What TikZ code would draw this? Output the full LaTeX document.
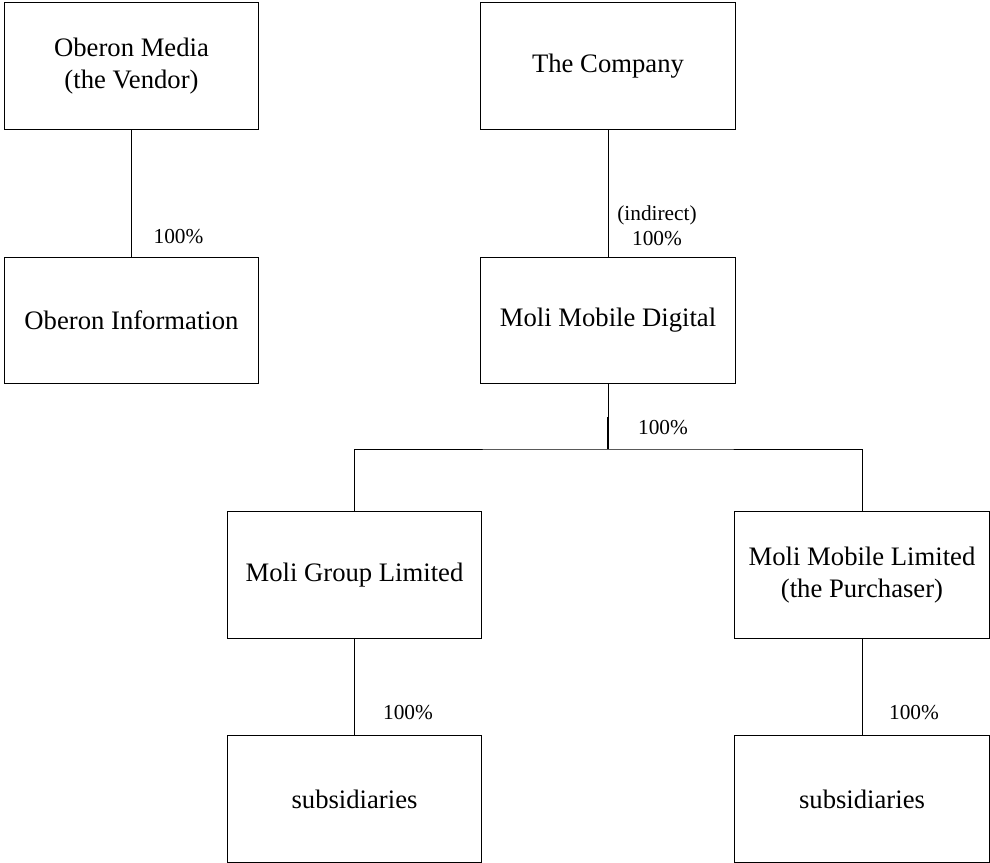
\documentclass[tikz,border=0pt]{standalone}
\usepackage{fontspec}
\setmainfont{Liberation Serif}
\usetikzlibrary{calc}

\tikzset{
  entity/.style={draw,line width=0.7pt,minimum width=191pt,minimum height=95pt,
    align=center,inner sep=0pt,font=\fontsize{20}{24.5}\selectfont},
  share/.style={font=\fontsize{16}{19}\selectfont,align=center,inner sep=0pt}
}

\begin{document}
\begin{tikzpicture}[x=0.75pt,y=-0.75pt,line width=0.7pt]
  \useasboundingbox (0,0) rectangle (990,863);
  % top row
  \node[entity] (media) at (131.5,66) {Oberon Media\\(the Vendor)};
  \node[entity] (company) at (608,66) {The Company};
  % second row
  \node[entity] (info) at (131.5,320.5) {Oberon Information};
  \node[entity] (digital) at (608,320.5) {Moli Mobile Digital};
  % third row
  \node[entity] (group) at (354.5,575) {Moli Group Limited};
  \node[entity] (limited) at (862,575) {Moli Mobile Limited\\(the Purchaser)};
  % bottom row
  \node[entity] (subA) at (354.5,799) {subsidiaries};
  \node[entity] (subB) at (862,799) {subsidiaries};

  \draw (media.south) -- (info.north);
  \node[share] (pctA) at (178.5,237) {100\%};

  \draw (company.south) -- (digital.north);
  \node[share] (pctB) at (657,226) {(indirect)\\100\%};

  \coordinate (split) at (608,449);
  \coordinate (tick) at (608,417);
  \draw (digital.south) -- (split);
  \draw[line width=1.6pt] (tick) -- (split);
  \draw (group.north) |- (split) -| (limited.north);
  \node[share] (pctC) at (663,428) {100\%};

  \draw (group.south) -- (subA.north);
  \node[share] (pctD) at (408,713) {100\%};
  \draw (limited.south) -- (subB.north);
  \node[share] (pctE) at (914,713) {100\%};
\end{tikzpicture}
\end{document}
